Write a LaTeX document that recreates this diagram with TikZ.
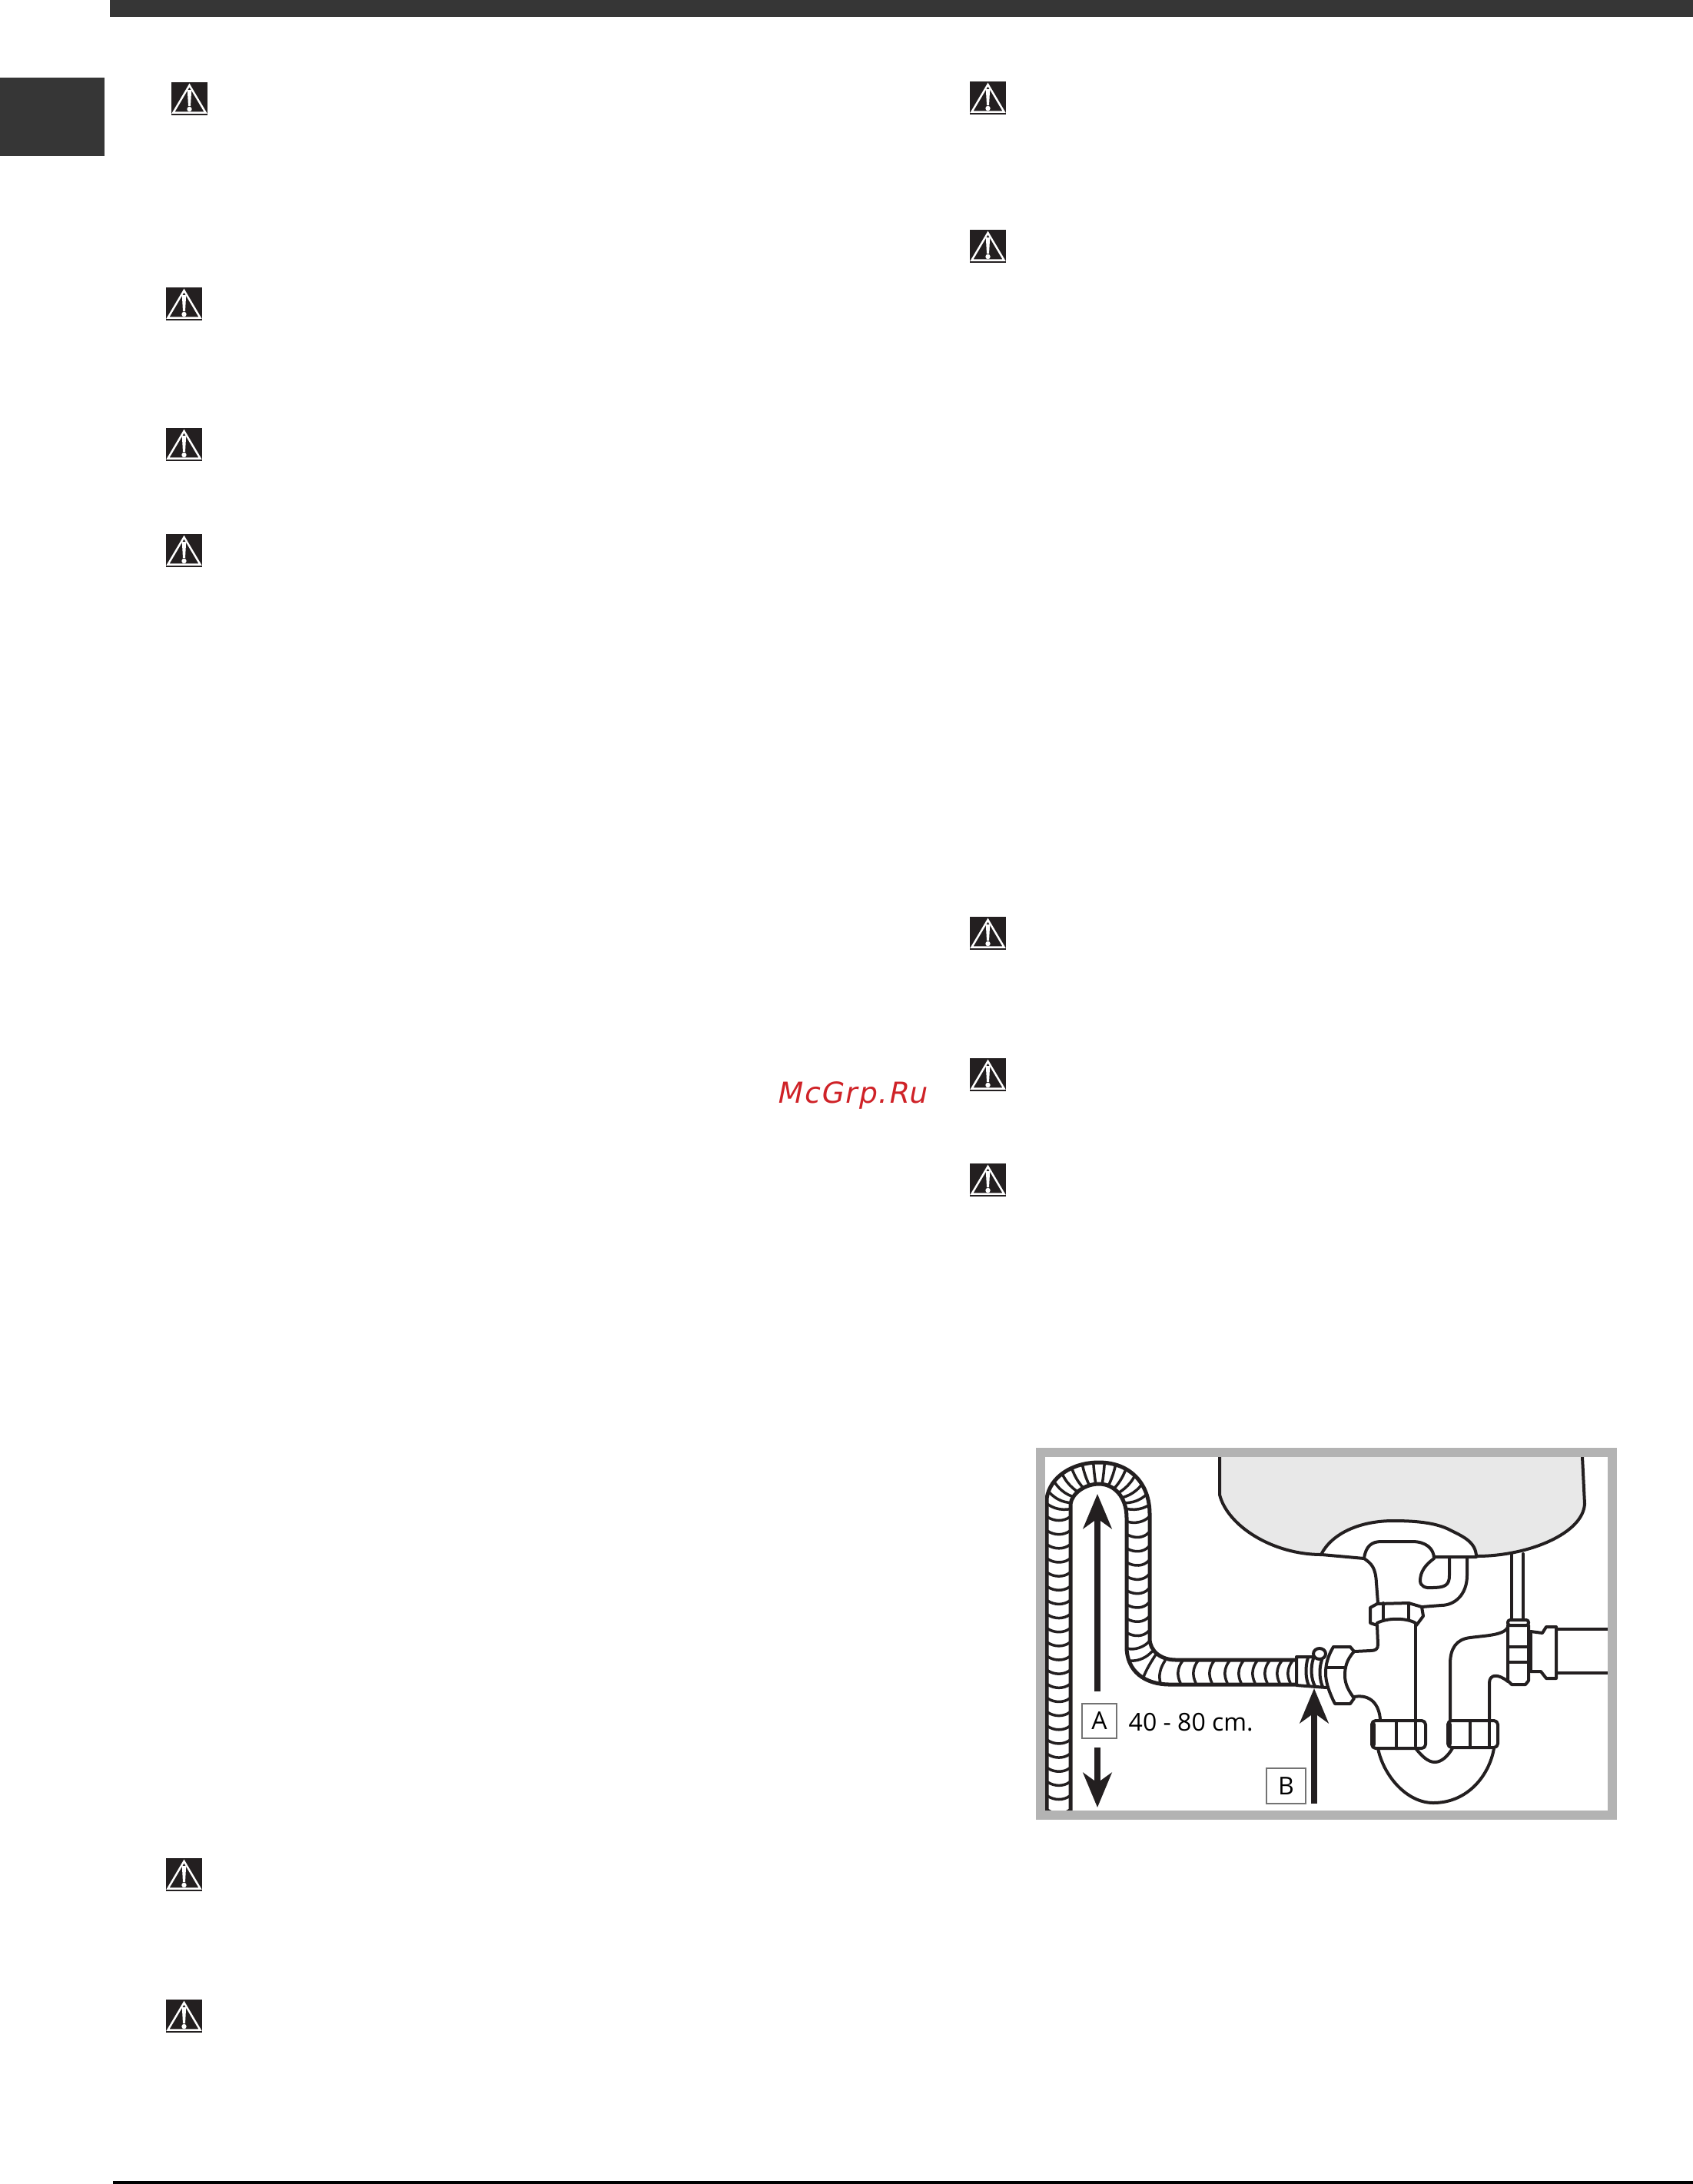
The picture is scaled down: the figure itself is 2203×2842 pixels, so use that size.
\documentclass[tikz,border=0pt]{standalone}
\usepackage{fontspec}
\setmainfont{Open Sans}
\newfontfamily\markfont[LetterSpace=5,FakeSlant=0.2]{DejaVu Sans}
\usetikzlibrary{arrows.meta}
\definecolor{inkdark}{HTML}{231F20}
\definecolor{bandgrey}{HTML}{363636}
\definecolor{framegrey}{HTML}{B3B3B3}
\definecolor{sinkgrey}{HTML}{E8E8E8}
\definecolor{markred}{HTML}{CF2227}
\tikzset{
  pipeline/.style={draw=inkdark,line width=.04cm,line join=round,line cap=round},
  hoseline/.style={draw=inkdark,line width=.05cm,line join=round},
  ribline/.style={draw=inkdark,line width=.035cm,line cap=round},
  bigarrow/.style={draw=inkdark,line width=.08cm,-{Stealth[length=.45cm,width=.37cm,inset=.13cm]}},
  tagbox/.style={draw=black!55,line width=.015cm,inner sep=0pt,font=\fontsize{9.1}{11}\selectfont},
  warnsign/.pic={
    \fill[inkdark] (0,0) rectangle (47,43);
    \draw[white,line width=.025cm,line join=miter] (23.5,4) -- (2.5,39.5) -- (44.5,39.5) -- cycle;
    \fill[white] (20.8,10) -- (26.2,10) -- (25,31) -- (22,31) -- cycle;
    \fill[white] (23.5,35) circle (3.2);
  }
}
\begin{document}
\begin{tikzpicture}[x=.01cm,y=-.01cm]
  \useasboundingbox (0,0) rectangle (2203,2842);
  % page furniture
  \fill[bandgrey] (143,0) rectangle (2203,22);
  \fill[bandgrey] (0,101) rectangle (136,203);
  \fill[black] (147,2838) rectangle (2203,2842);
  % warning signs
  \pic at (223,107) {warnsign};
  \pic at (216,374) {warnsign};
  \pic at (216,557) {warnsign};
  \pic at (216,695) {warnsign};
  \pic at (216,2418) {warnsign};
  \pic at (216,2602) {warnsign};
  \pic at (1262,106) {warnsign};
  \pic at (1262,299) {warnsign};
  \pic at (1262,1193) {warnsign};
  \pic at (1262,1377) {warnsign};
  \pic at (1262,1514) {warnsign};
  \node[anchor=base west,inner sep=0pt,text=markred,font=\markfont\fontsize{10.7}{12}\selectfont] (mark) at (1010,1435) {McGrp.Ru};
  % sink
  \fill[sinkgrey] (1587,1896) -- (1587,1945)
    .. controls (1597,1985) and (1655,2023) .. (1720,2023)
    .. controls (1733,1995) and (1770,1979) .. (1813,1979)
    .. controls (1850,1979) and (1870,1983) .. (1885,1990)
    .. controls (1900,1998) and (1921,2005) .. (1921,2025)
    .. controls (1990,2025) and (2060,1995) .. (2062,1957)
    -- (2059,1896) -- cycle;
  \draw[pipeline] (1587,1896) -- (1587,1945)
    .. controls (1597,1985) and (1655,2023) .. (1720,2023) -- (1775,2028);
  \draw[pipeline] (1921,2025)
    .. controls (1990,2025) and (2060,1995) .. (2062,1957) -- (2059,1896);
  \draw[pipeline] (1719,2023)
    .. controls (1733,1995) and (1770,1979) .. (1813,1979)
    .. controls (1850,1979) and (1870,1983) .. (1885,1990)
    .. controls (1900,1998) and (1921,2005) .. (1921,2026) -- (1866,2026);
  % tail piece and hook
  \draw[pipeline] (1793,2086) -- (1791,2060)
    .. controls (1790,2040) and (1785,2035) .. (1775,2028)
    .. controls (1777,2012) and (1785,2006) .. (1797,2006) -- (1838,2006)
    .. controls (1855,2006) and (1866,2015) .. (1866,2028)
    .. controls (1855,2036) and (1848,2045) .. (1848,2057)
    .. controls (1848,2064) and (1855,2067) .. (1863,2066)
    .. controls (1880,2066) and (1886,2063) .. (1886,2050) -- (1886,2027);
  \draw[pipeline] (1909,2027) -- (1909,2050)
    .. controls (1909,2075) and (1893,2089) .. (1875,2089) -- (1850,2091);
  % nut under the tail piece
  \draw[pipeline] (1792,2087) -- (1833,2086) -- (1850,2091) -- (1852,2103) -- (1843,2115);
  \draw[pipeline] (1792,2087) -- (1783,2092) -- (1783,2112) -- (1792,2115);
  \draw[pipeline] (1800,2086) -- (1800,2108);
  \draw[pipeline] (1833,2086) -- (1833,2108);
  \draw[pipeline] (1792,2112) .. controls (1805,2105) and (1830,2105) .. (1842,2112);
  % standpipe
  \draw[pipeline] (1792,2115) -- (1793,2140) .. controls (1793,2146) and (1790,2148) .. (1783,2148) -- (1762,2149);
  \draw[pipeline] (1842,2113) -- (1842,2272);
  \draw[pipeline] (1762,2208) .. controls (1785,2204) and (1795,2220) .. (1796,2238);
  % hex nut
  \draw[pipeline] (1735,2143) -- (1757,2143) -- (1762,2149)
    .. controls (1752,2160) and (1750,2170) .. (1750,2180)
    .. controls (1750,2192) and (1755,2200) .. (1762,2210)
    -- (1757,2217) -- (1737,2217)
    .. controls (1730,2203) and (1725,2190) .. (1725,2177)
    .. controls (1725,2165) and (1728,2155) .. (1735,2143);
  \draw[pipeline] (1727,2170) -- (1751,2170);
  % sleeve and clamp on the hose
  \draw[pipeline] (1708,2156) -- (1687,2156) -- (1687,2193) -- (1726,2196);
  \draw[pipeline] (1702,2157) .. controls (1698,2170) and (1699,2185) .. (1703,2193);
  \draw[pipeline] (1709,2158) .. controls (1705,2170) and (1706,2185) .. (1711,2194);
  \draw[pipeline] (1720,2160) .. controls (1716,2172) and (1717,2185) .. (1721,2195);
  \draw[pipeline,fill=white] (1717,2152) ellipse (8 and 7);
  % trap bend
  \draw[pipeline] (1793,2275) .. controls (1800,2310) and (1830,2346) .. (1865,2346)
    .. controls (1910,2346) and (1938,2310) .. (1944,2275);
  \draw[pipeline] (1842,2275) .. controls (1850,2285) and (1858,2293) .. (1867,2293)
    .. controls (1876,2293) and (1884,2285) .. (1890,2275);
  % couplings
  \draw[pipeline,rounded corners=.05cm] (1785,2239) rectangle (1855,2275);
  \draw[pipeline,rounded corners=.05cm] (1884,2239) rectangle (1949,2274);
  \draw[inkdark,line width=.06cm,line cap=round] (1787,2244) -- (1787,2270);
  \draw[inkdark,line width=.06cm,line cap=round] (1886,2244) -- (1886,2269);
  \draw[pipeline] (1817,2239) -- (1817,2275);
  \draw[pipeline] (1913,2239) -- (1913,2274);
  \draw[pipeline] (1938,2239) -- (1938,2274);
  % riser
  \draw[pipeline] (1887,2238) -- (1887,2165)
    .. controls (1887,2145) and (1895,2133) .. (1913,2131)
    .. controls (1935,2128) and (1960,2128) .. (1963,2115);
  \draw[pipeline] (1938,2238) -- (1938,2190)
    .. controls (1938,2178) and (1950,2178) .. (1962,2188);
  % valve on the right
  \draw[pipeline] (1967,2022) -- (1967,2108);
  \draw[pipeline] (1982,2022) -- (1982,2108);
  \draw[pipeline,rounded corners=.03cm] (1962,2108) rectangle (1989,2115);
  \draw[pipeline] (1962,2115) -- (1962,2187) -- (1967,2192) -- (1985,2192) -- (1989,2187) -- (1989,2115);
  \draw[pipeline] (1963,2143) -- (1988,2143);
  \draw[pipeline] (1963,2163) -- (1988,2163);
  \draw[pipeline] (1992,2123) -- (1992,2175);
  \draw[pipeline] (1992,2123) -- (2007,2125) -- (2012,2117) -- (2025,2117) -- (2025,2184) -- (2012,2184) -- (2005,2175) -- (1992,2175);
  \draw[pipeline] (2026,2120) -- (2092,2120);
  \draw[pipeline] (2026,2177) -- (2092,2177);
  % hose
  \begin{scope}
    \clip (1362,1990) -- (1362,1950)
      .. controls (1366,1922) and (1395,1903) .. (1430,1903)
      .. controls (1470,1903) and (1496,1930) .. (1496,1970) -- (1496,1990) -- (1466,1990) -- (1466,1975)
      .. controls (1466,1948) and (1450,1931) .. (1430,1931)
      .. controls (1412,1931) and (1395,1943) .. (1393,1957) -- (1393,1990) -- cycle;
    \foreach \a in {-168,-156,...,-12} {
      \pgfmathsetmacro{\bend}{10*cos(\a)}
      \draw[ribline] (1430,1968) ++(\a:30) .. controls ([shift={(1430,1968)}]\a+\bend:45) and ([shift={(1430,1968)}]\a+\bend:58) .. ([shift={(1430,1968)}]\a:75);
    }
  \end{scope}
  \draw[hoseline] (1362,2356) -- (1362,1950)
    .. controls (1366,1922) and (1395,1903) .. (1430,1903)
    .. controls (1470,1903) and (1496,1930) .. (1496,1970)
    -- (1496,2132)
    .. controls (1496,2148) and (1510,2160) .. (1530,2160) -- (1687,2160);
  \draw[hoseline] (1393,2356) -- (1393,1957)
    .. controls (1395,1943) and (1412,1931) .. (1430,1931)
    .. controls (1450,1931) and (1466,1948) .. (1466,1975)
    -- (1466,2143)
    .. controls (1466,2175) and (1490,2192) .. (1522,2192) -- (1687,2192);
  \foreach \k in {0,...,21}
    \draw[ribline] (1363,1974+18.15*\k) .. controls (1372,1980+18.15*\k) and (1384,1980+18.15*\k) .. (1392,1974+18.15*\k);
  \foreach \k in {0,...,7}
    \draw[ribline] (1467,1997+18.3*\k) .. controls (1476,2002+18.3*\k) and (1488,2002+18.3*\k) .. (1495,1994+18.3*\k);
  \draw[ribline] (1467,1980) .. controls (1476,1983) and (1488,1981) .. (1495,1974);
  \draw[ribline] (1467,2145) .. controls (1476,2148) and (1490,2143) .. (1496,2135);
  \draw[ribline] (1471,2161) .. controls (1482,2162) and (1493,2156) .. (1499,2149);
  \draw[ribline] (1488,2182) .. controls (1492,2172) and (1498,2162) .. (1504,2153);
  \draw[ribline] (1510,2190) .. controls (1507,2180) and (1510,2170) .. (1516,2161);
  \foreach \x in {1536,1556,1577,1597,1615,1633,1649,1665,1679}
    \draw[ribline] (\x,2190) .. controls (\x-5,2180) and (\x-4,2170) .. (\x+3,2161);
  % labels
  \node[tagbox,minimum width=.45cm,minimum height=.45cm] (A) at (1430.5,2239.5) {A};
  \node[tagbox,minimum width=.51cm,minimum height=.46cm] (B) at (1673.5,2324) {B};
  \node[anchor=base west,inner sep=0pt,font=\fontsize{9.1}{11}\selectfont] (range) at (1468,2252) {40 - 80 cm.};
  % arrows
  \coordinate (tailup) at (1428,2201);
  \coordinate (tipup) at (1428,1944);
  \coordinate (taildown) at (1428,2274);
  \coordinate (tipdown) at (1428,2352);
  \coordinate (tailB) at (1710,2347);
  \coordinate (tipB) at (1710,2197);
  \draw[bigarrow] (tailup) -- (tipup);
  \draw[bigarrow] (taildown) -- (tipdown);
  \draw[bigarrow] (tailB) -- (tipB);
  % frame
  \draw[framegrey,line width=.12cm] (1354,1890) rectangle (2098,2362);
\end{tikzpicture}
\end{document}
